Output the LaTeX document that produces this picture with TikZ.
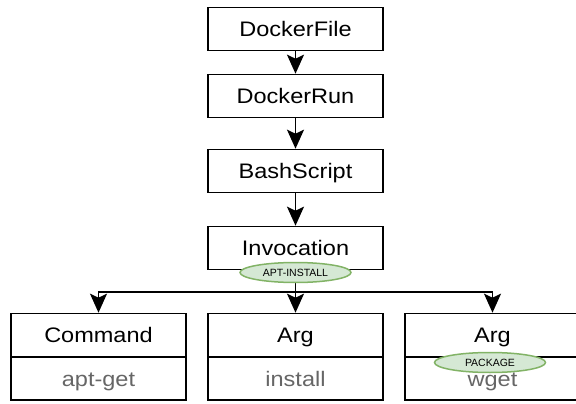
\documentclass[tikz,border=0pt]{standalone}
\usepackage{fontspec}
\setmainfont{Liberation Sans}
\newfontfamily\bigfont[FakeStretch=1.12]{Liberation Sans}
\usetikzlibrary{arrows.meta,shapes.geometric}
\definecolor{tagfill}{HTML}{D5E8D4}
\definecolor{tagline}{HTML}{82B366}
\definecolor{valgray}{HTML}{666666}
\tikzset{
  box/.style={draw=black, line width=1.6pt, fill=white, minimum width=175pt, minimum height=43pt, inner sep=0pt, text height=15.5pt, text depth=0pt, font=\bigfont\fontsize{21}{24}\selectfont},
  valbox/.style={box, text=valgray},
  tag/.style={ellipse, draw=tagline, fill=tagfill, line width=1.5pt, minimum width=111pt, minimum height=20pt, inner sep=0pt, font=\fontsize{10.5}{12}\selectfont},
  conn/.style={line width=1.6pt, -{Stealth[length=19pt,width=17pt,inset=4pt]}}
}
\begin{document}
\begin{tikzpicture}[x=1pt,y=-1pt]
\useasboundingbox (0,0) rectangle (576,404);
\clip (0,0) rectangle (576,404);
\node[box] (df) at (295.5,29) {DockerFile};
\node[box] (dr) at (295.5,96) {DockerRun};
\node[box] (bs) at (295.5,171) {BashScript};
\node[box] (inv) at (295.5,248) {Invocation};
\node[box] (cmdH) at (98.5,335) {Command};
\node[valbox] (cmdB) at (98.5,378.5) {apt-get};
\node[box] (arg1H) at (295.5,335) {Arg};
\node[valbox] (arg1B) at (295.5,378.5) {install};
\node[box] (arg2H) at (492.5,335) {Arg};
\node[valbox] (arg2B) at (492.5,378.5) {wget};
\coordinate (bus) at (295.5,292);
\draw[conn] (df) -- (dr);
\draw[conn] (dr) -- (bs);
\draw[conn] (bs) -- (inv);
\draw[conn] (inv.south) -- (arg1H.north);
\draw[conn] (inv.south) -- (bus) -| (cmdH.north);
\draw[conn] (inv.south) -- (bus) -| (arg2H.north);
\node[tag] (aptTag) at (295.5,272.5) {APT-INSTALL};
\node[tag] (pkgTag) at (490,362.5) {PACKAGE};
\end{tikzpicture}
\end{document}
